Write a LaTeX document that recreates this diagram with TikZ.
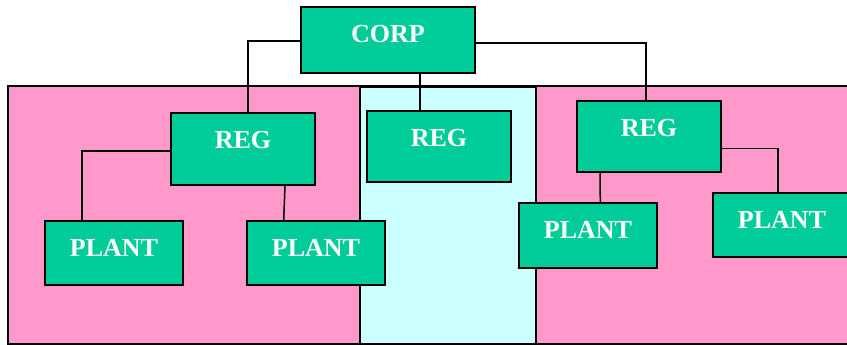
\documentclass[tikz,border=0pt]{standalone}
\usepackage{fontspec}
\setmainfont{Liberation Serif}
\usetikzlibrary{calc,shadows}
\definecolor{boxgreen}{HTML}{00CC99}
\definecolor{regpink}{HTML}{FF99CC}
\definecolor{regcyan}{HTML}{CCFFFF}
\pgfdeclarelayer{zones}
\pgfdeclarelayer{links}
\pgfsetlayers{zones,links,main}
\begin{document}
\begin{tikzpicture}[x=1pt,y=1pt,
  orgbox/.style={draw=black, fill=boxgreen, line width=2pt, inner sep=0pt,
    anchor=north west, text=white, text height=36pt,
    font=\fontsize{26}{30}\selectfont\bfseries,
    drop shadow={shadow xshift=1.2pt, shadow yshift=-1.2pt, fill=black!45, opacity=1}},
  corpbox/.style={orgbox, minimum width=174pt, text depth=30pt},
  regbox/.style={orgbox, minimum width=144pt, text depth=36pt},
  plantbox/.style={orgbox, minimum width=138pt, text depth=28.5pt},
  link/.style={draw=black, line width=1.5pt},
  zone/.style={draw=black, line width=1.5pt}]
\useasboundingbox (0,0) rectangle (847,345);
\clip (0,0) rectangle (847,345);
% boxes
\node[corpbox] (corp) at (300,339) {CORP};
\node[regbox] (reg1) at (170,233) {REG};
\node[regbox, text depth=35pt] (reg2) at (366,235) {REG};
\node[regbox, text depth=35pt] (reg3) at (576,245) {REG};
\node[plantbox, text depth=28pt] (plant1) at (44,125) {PLANT};
\node[plantbox, text depth=28pt] (plant2) at (246,125) {PLANT};
\node[plantbox, text depth=29pt] (plant3) at (518,143) {PLANT};
\node[plantbox, text depth=28pt] (plant4) at (712,153) {PLANT};
% regions
\begin{pgfonlayer}{zones}
\path[zone, fill=regpink] (8,1) rectangle (870,259);
\path[zone, fill=regcyan] (360,1) rectangle (536,257.5);
\end{pgfonlayer}
% connectors
\coordinate (c1) at ($(reg1.north west)+(78,0)$);
\coordinate (c3) at ($(reg3.north west)+(70,0)$);
\coordinate (c2) at ($(corp.south west)+(120,0)$);
\coordinate (p1) at ($(plant1.north west)+(38,0)$);
\coordinate (r1b) at ($(reg1.south west)+(115,0)$);
\coordinate (p2) at ($(plant2.north west)+(37.7,0)$);
\coordinate (r3b) at ($(reg3.south west)+(24,0)$);
\coordinate (p3) at ($(plant3.north west)+(82.3,0)$);
\coordinate (p4) at ($(plant4.north west)+(66,0)$);
\begin{pgfonlayer}{links}
\draw[link] ([yshift=-1pt]corp.west) -| (c1);
\draw[link] ([yshift=-3pt]corp.east) -| (c3);
\draw[link] (c2) -- (c2 |- reg2.north);
\draw[link] ([yshift=-2pt]reg1.west) -| (p1);
\draw[link] (r1b) -- (p2);
\draw[link] (r3b) -- (p3);
\draw[link] ([yshift=-12pt]reg3.east) -| (p4);
\end{pgfonlayer}
\end{tikzpicture}
\end{document}
